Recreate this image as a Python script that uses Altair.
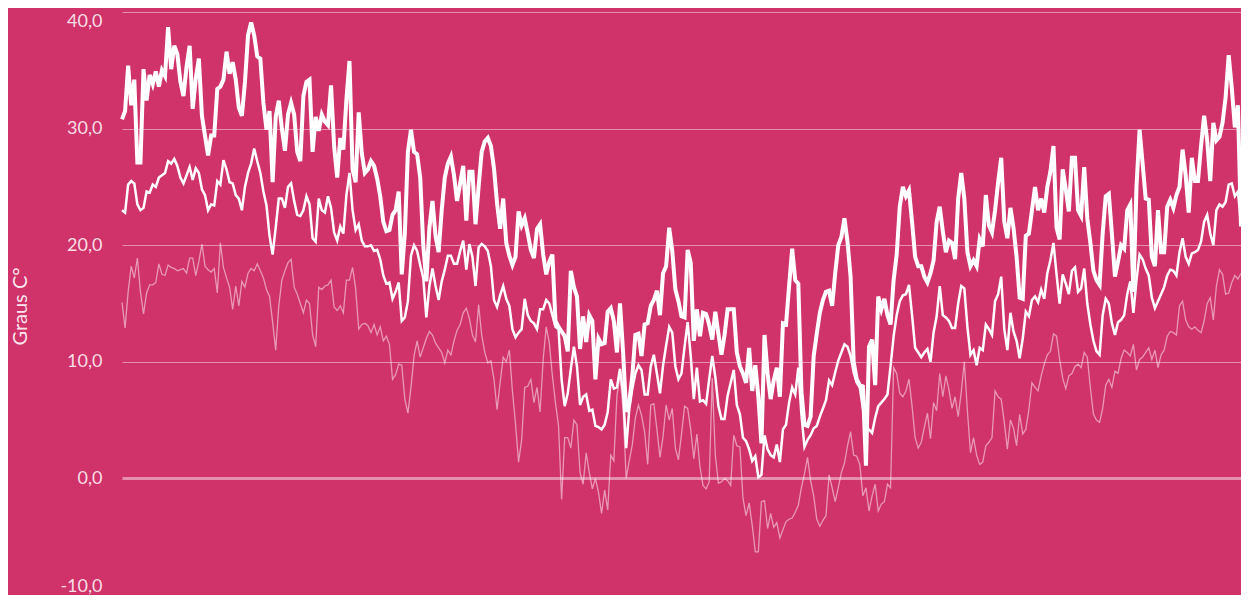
import altair as alt
import pandas as pd

# Daily temperatures (°C)
maxima = [
    30.8, 31.5, 35.4, 32.0, 34.2, 27.1, 27.1, 35.1, 32.4, 34.6, 33.8, 34.9, 33.6, 35.0, 34.5, 38.7,
    35.1, 37.1, 36.4, 34.0, 32.8, 35.3, 37.1, 31.7, 34.3, 36.0, 31.1, 29.4, 27.7, 29.4, 29.4, 33.4,
    33.6, 34.2, 36.6, 34.7, 35.7, 34.2, 31.8, 31.1, 34.0, 38.0, 39.1,
    38.0, 36.2, 36.0, 32.2, 29.9, 31.5, 25.4, 31.0, 32.4, 30.0, 28.1, 31.2, 32.2, 31.2, 28.0, 27.2,
    32.8, 34.0, 34.2, 28.0, 31.0, 29.8, 31.2, 30.6, 30.3, 33.7, 28.5, 25.8, 29.2, 28.2, 32.5, 35.8,
    26.5, 25.4, 31.4, 27.9, 26.2, 26.5, 27.2, 26.8, 25.7, 24.2, 22.0, 21.2,
    21.3, 22.6, 23.0, 24.6, 17.5, 21.0, 28.0, 29.9, 28.0, 27.8, 25.8, 20.0, 16.9, 21.5, 23.8, 20.8,
    19.4, 23.0, 25.8, 27.0, 27.6, 26.0, 23.8, 25.3, 26.8, 22.1, 26.3, 26.3, 21.8, 25.0, 28.0, 28.9,
    29.2, 28.5, 26.6, 23.6, 21.4, 24.0, 20.2, 19.1, 18.3, 19.0, 22.9, 21.7, 22.3, 21.0,
    19.6, 18.9, 21.4, 21.8, 19.2, 17.5, 18.6, 19.2, 13.5, 13.0, 12.6, 12.2, 10.9, 17.8, 16.4, 15.6,
    11.1, 13.9, 11.7, 14.0, 13.5, 8.5, 12.0, 11.5, 11.6, 14.3, 14.6, 13.5, 10.8, 15.0, 10.8, 5.7,
    6.5, 8.8, 12.3, 12.4, 10.5, 13.2, 13.3, 14.8, 15.3, 16.1, 14.0, 17.6, 18.2, 21.5,
    19.5, 16.2, 15.2, 13.9, 13.8, 19.6, 18.5, 11.8, 14.5, 12.2, 14.2, 14.1, 13.2, 11.9, 14.3, 12.4,
    10.6, 12.3, 14.5, 14.5, 14.5, 10.8, 9.6, 9.0, 8.2, 11.2, 7.5, 9.7, 7.0, 3.0, 12.3, 9.0,
    6.8, 8.4, 9.5, 7.0, 13.3, 13.2, 16.5, 19.7, 17.0, 16.7, 7.5, 4.6, 4.5, 5.3,
    10.5, 12.4, 14.2, 15.3, 16.0, 16.1, 14.8, 17.6, 20.0, 20.7, 22.3, 20.3, 17.3, 10.0, 8.5, 8.0,
    7.9, 1.1, 11.3, 11.9, 8.0, 15.6, 14.5, 15.4, 14.0, 13.2, 17.0, 19.2, 23.3, 25.0, 24.2, 24.7,
    22.0, 19.0, 18.2, 18.2, 17.3, 16.8, 17.6, 18.7, 22.0, 23.3, 21.2, 19.4, 20.4, 20.2,
    18.8, 24.0, 26.2, 24.0, 19.4, 18.2, 18.7, 18.2, 20.5, 19.9, 24.3, 21.7, 21.1, 23.0, 25.4, 27.5,
    22.0, 20.6, 23.2, 21.5, 19.0, 15.5, 15.4, 20.8, 21.0, 23.0, 25.0, 23.0, 24.0, 22.8, 25.0, 26.3,
    28.5, 21.5, 20.5, 26.5, 24.8, 22.9, 27.5, 27.5, 23.0, 22.5, 26.7, 22.3, 20.2, 17.8, 17.0,
    16.6, 21.0, 24.2, 24.4, 21.0, 17.3, 18.6, 20.0, 19.7, 23.0, 23.5, 16.0, 25.0, 29.9, 27.0, 24.0,
    23.9, 19.0, 18.2, 23.0, 19.4, 19.4, 23.3, 23.9, 23.2, 24.3, 25.0, 28.2, 26.0, 22.8, 27.5, 25.5,
    25.5, 28.5, 31.1, 29.0, 25.5, 30.5, 29.0, 29.3, 30.5, 32.7, 36.3, 33.5, 30.1, 32.0, 21.6,
]

medias = [
    23.0, 22.8, 25.2, 25.5, 25.3, 23.5, 23.0, 23.2, 24.6, 24.5, 25.2, 25.0, 25.8, 26.0, 26.2, 27.2,
    27.0, 27.4, 26.8, 25.8, 25.3, 26.0, 26.7, 25.6, 26.6, 26.2, 24.8, 24.3, 23.0, 23.5, 23.4, 25.5,
    25.2, 27.3, 26.5, 25.4, 25.3, 24.3, 24.0, 23.0, 25.0, 26.2, 27.0,
    28.3, 27.2, 26.2, 24.6, 23.4, 20.8, 19.2, 21.5, 24.0, 24.0, 23.2, 25.0, 25.3, 23.8, 22.6, 22.5,
    23.0, 24.2, 23.5, 20.6, 20.3, 24.0, 23.0, 22.8, 24.2, 23.2, 21.1, 20.4, 21.6, 21.0, 24.3, 26.2,
    23.0, 21.3, 21.8, 20.4, 19.9, 19.9, 20.0, 19.5, 19.6, 18.8, 17.4, 16.7,
    16.8, 15.4, 16.0, 16.8, 13.5, 13.8, 15.2, 19.1, 20.0, 19.5, 18.3, 17.2, 13.8, 16.5, 18.0, 16.5,
    15.3, 16.9, 17.9, 19.1, 19.1, 18.4, 18.4, 19.5, 20.4, 17.9, 20.1, 19.0, 16.5, 19.8, 20.1, 19.9,
    19.5, 18.2, 15.3, 14.7, 15.7, 16.5, 15.4, 14.8, 12.8, 12.1, 12.5, 12.8, 15.4, 14.0,
    13.5, 13.3, 12.8, 14.5, 14.5, 15.3, 15.0, 14.0, 13.0, 12.8, 8.5, 6.2, 7.3, 9.4, 11.3, 9.6,
    6.3, 7.0, 7.2, 5.8, 5.9, 4.5, 4.4, 4.2, 4.6, 5.7, 8.5, 7.7, 7.8, 9.4, 7.3, 2.6,
    5.9, 7.7, 9.0, 9.7, 9.3, 7.2, 7.2, 9.6, 10.6, 9.0, 7.3, 9.7, 11.4, 13.0,
    12.5, 9.6, 8.5, 9.0, 11.3, 13.4, 10.5, 6.8, 9.5, 6.6, 6.7, 6.4, 8.5, 10.5, 8.7, 6.2,
    5.1, 5.1, 7.1, 8.2, 9.3, 6.3, 5.5, 3.5, 3.2, 2.5, 1.5, 1.9, 0.1, 0.3, 3.7, 2.5,
    2.0, 1.8, 2.9, 1.4, 4.2, 4.6, 6.5, 7.8, 7.2, 9.5, 5.5, 2.7, 3.3, 3.7,
    4.3, 4.5, 5.3, 6.0, 6.7, 8.4, 8.0, 9.1, 10.1, 10.8, 11.5, 11.3, 10.5, 9.1, 8.2, 7.8,
    6.0, 4.2, 4.2, 3.9, 5.2, 6.2, 6.5, 6.8, 7.2, 9.6, 12.2, 14.0, 15.2, 15.7, 15.8, 16.6,
    14.0, 11.2, 10.8, 10.4, 10.8, 11.1, 10.0, 12.5, 13.9, 16.5, 14.0, 13.8, 13.5, 12.9,
    12.9, 15.0, 16.5, 16.3, 13.0, 10.6, 11.0, 9.7, 11.2, 11.0, 13.2, 12.8, 12.3, 15.2, 15.8, 17.3,
    12.8, 11.0, 14.2, 12.6, 11.8, 10.3, 12.0, 14.3, 13.9, 15.3, 15.6, 15.1, 16.2, 15.4, 17.6, 18.7,
    20.2, 17.5, 15.0, 17.5, 16.7, 15.8, 17.8, 18.1, 16.0, 16.3, 18.0, 15.0, 13.2, 11.8, 10.9,
    10.6, 14.0, 15.4, 15.0, 13.3, 12.3, 13.4, 13.6, 14.0, 15.8, 16.9, 14.2, 17.0, 19.2, 18.8, 18.0,
    17.4, 15.5, 14.6, 15.2, 15.8, 16.4, 17.4, 17.9, 17.8, 17.4, 19.4, 20.6, 19.0, 18.4, 19.3, 19.4,
    19.6, 20.3, 22.0, 22.6, 21.0, 20.0, 23.0, 23.5, 23.3, 23.7, 25.2, 25.3, 24.2, 24.6, 21.8,
]

minimas = [
    15.1, 12.9, 16.0, 18.2, 17.2, 18.9, 16.0, 14.1, 15.9, 16.6, 16.6, 16.8, 18.4, 17.5, 17.4, 18.3,
    18.1, 18.0, 17.8, 17.9, 18.0, 17.6, 18.9, 18.9, 17.4, 18.6, 20.1, 18.2, 17.9, 17.7, 18.0, 15.9,
    20.2, 18.1, 17.2, 16.4, 14.5, 16.5, 14.8, 16.9, 16.4, 17.6, 18.0,
    17.8, 18.4, 17.8, 17.2, 16.2, 15.6, 13.4, 11.0, 14.8, 17.0, 17.8, 18.5, 18.8, 16.4, 15.8, 15.0,
    14.2, 15.3, 15.0, 12.3, 11.3, 16.4, 16.2, 16.5, 16.6, 17.0, 14.7, 14.4, 14.8, 14.2, 17.0, 17.0,
    18.1, 16.3, 12.8, 13.2, 13.3, 13.1, 12.5, 13.2, 12.3, 13.0, 11.8, 12.2,
    11.5, 8.5, 8.9, 9.8, 9.7, 6.8, 5.6, 7.8, 10.5, 11.8, 10.4, 11.2, 12.0, 12.6, 12.3, 11.6,
    11.2, 10.8, 9.9, 11.0, 10.6, 11.8, 12.7, 13.2, 14.2, 14.6, 13.7, 12.3, 11.7, 14.9, 12.3, 10.8,
    9.9, 10.1, 8.5, 5.9, 8.2, 10.4, 10.0, 11.0, 7.5, 4.7, 1.4, 3.3, 7.8, 7.9,
    8.5, 6.5, 7.8, 5.7, 10.2, 13.0, 11.6, 8.8, 6.5, 4.5, -1.8, 3.5, 3.5, 2.6, 5.0, 4.6,
    0.5, -0.5, 2.2, 0.5, -0.9, 0.0, -1.2, -3.0, -1.0, -2.7, 2.0, 1.5, 7.1, 8.8, 5.9, 0.0,
    1.5, 2.9, 5.2, 6.3, 5.4, 4.0, 1.2, 6.3, 6.4, 4.2, 1.8, 3.6, 6.3, 5.0,
    6.0, 2.6, 1.6, 3.8, 6.2, 6.0, 4.2, 1.7, 3.8, 1.0, -0.6, -0.9, -0.3, 8.6, 2.0, -0.4,
    -0.3, 0.0, -0.2, -0.6, 3.7, 2.8, 2.7, -1.7, -3.2, -2.1, -4.0, -6.3, -6.3, -2.0, -1.9, -4.3,
    -3.0, -4.2, -3.8, -5.1, -4.4, -3.7, -3.5, -3.4, -2.9, -2.3, -0.8, 0.4, 1.8, -0.2,
    -1.5, -3.5, -4.1, -3.6, -3.2, 0.3, -0.8, -2.0, -0.8, 0.5, 1.3, 2.8, 4.0, 2.0, 1.9, 1.2,
    -1.5, -0.8, -2.8, -1.5, -0.5, -2.8, -2.2, -2.0, -0.5, -0.8, 9.5, 9.0, 7.3, 7.0, 7.5, 8.5,
    6.2, 3.5, 2.6, 3.1, 4.4, 5.6, 3.4, 6.5, 5.8, 9.0, 7.0, 8.8, 7.6, 6.0,
    7.0, 5.3, 7.4, 10.0, 5.8, 2.2, 3.5, 2.0, 1.2, 1.4, 2.8, 3.1, 3.5, 7.5, 7.0, 6.8,
    4.8, 2.5, 5.0, 4.3, 2.8, 5.5, 3.8, 4.2, 5.9, 8.2, 7.8, 7.5, 8.8, 9.8, 10.6, 10.9,
    12.4, 12.2, 10.2, 8.6, 7.7, 8.8, 9.0, 9.6, 9.8, 9.5, 10.8, 10.4, 7.8, 5.5, 5.0,
    4.8, 6.0, 8.0, 8.5, 7.8, 9.2, 9.0, 10.3, 11.0, 10.8, 10.5, 11.5, 9.3, 10.2, 10.4, 10.8,
    11.2, 10.2, 11.0, 9.5, 10.6, 11.0, 12.2, 12.6, 12.5, 12.3, 14.8, 15.2, 13.6, 13.0, 12.8, 13.0,
    12.7, 12.5, 13.5, 15.0, 15.5, 13.6, 16.5, 17.9, 17.5, 15.8, 15.9, 16.8, 17.4, 17.1, 17.6,
]

y_ticks = [-10, 0, 10, 20, 30, 40]

n = min(len(maxima), len(medias), len(minimas))
df = pd.DataFrame({
    "dia": list(range(1, n + 1)),
    "maxima": maxima[:n],
    "media": medias[:n],
    "minima": minimas[:n],
})

BG = "#D0326A"

x_enc = alt.X("dia:Q", axis=None,
              scale=alt.Scale(domain=[1, n], nice=False, zero=False))


def y_enc(field):
    return alt.Y(
        f"{field}:Q",
        scale=alt.Scale(domain=[-10, 40], nice=False, zero=False),
        axis=alt.Axis(
            values=y_ticks,
            labelExpr="replace(replace(format(datum.value, '.1f'), '.', ','), '\u2212', '-')",
            labelFlush=True,
            title="Graus C°",
            grid=True,
            gridColor="#ffffff",
            gridOpacity=0.45,
            gridWidth={"condition": {"test": "datum.value === 0", "value": 3}, "value": 1},
            domain=False,
            ticks=False,
            tickSize=0,
            labelPadding=20,
            labelColor="#ffffff",
            labelOpacity=0.85,
            labelFont="Lato",
            labelFontSize=18,
            titleColor="#ffffff",
            titleOpacity=0.9,
            titleFont="Lato",
            titleFontSize=20,
            titleFontWeight="normal",
            titleAngle=-90,
            titleAlign="center",
            titleBaseline="middle",
            titleX=-102,
            titleY=294,
        ),
    )


base = alt.Chart(df)

min_line = base.mark_line(color="#ffffff", strokeWidth=1.3, opacity=0.5).encode(
    x=x_enc, y=y_enc("minima")
)
mean_line = base.mark_line(color="#ffffff", strokeWidth=2.5).encode(
    x=x_enc, y=y_enc("media")
)
max_line = base.mark_line(color="#ffffff", strokeWidth=4).encode(
    x=x_enc, y=y_enc("maxima")
)

chart = (
    alt.layer(min_line, mean_line, max_line)
    .properties(
        width=1119,
        height=583,
        background=BG,
        padding={"left": 114, "top": 4, "right": 0, "bottom": 0},
        autosize=alt.AutoSizeParams(type="none"),
    )
    .configure_view(stroke=None)
)

chart.save("out.html", embed_options={"renderer": "svg", "actions": False})
